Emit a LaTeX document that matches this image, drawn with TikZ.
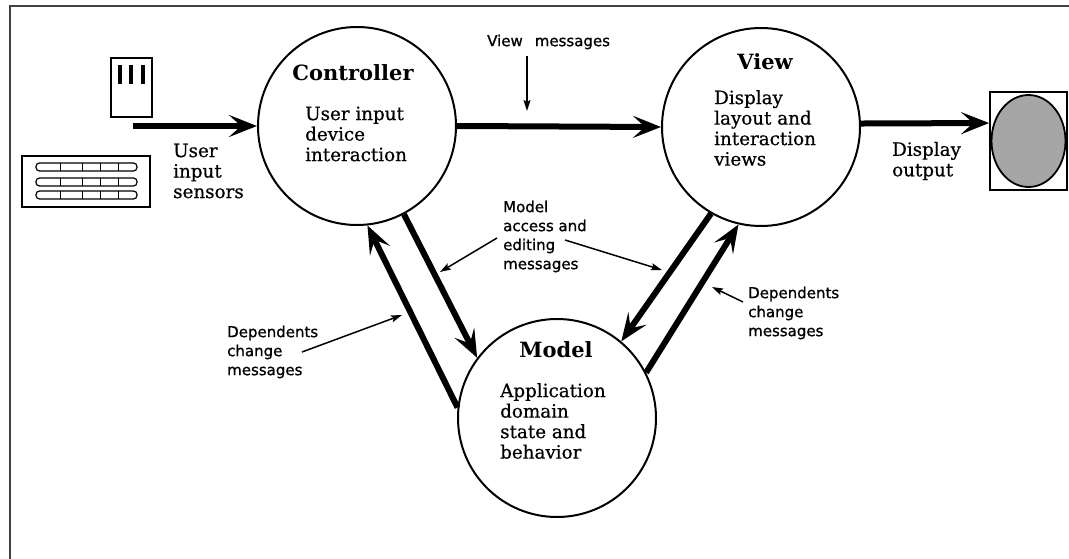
\documentclass[tikz,border=0pt]{standalone}
\usepackage{fontspec}
\setmainfont{DejaVu Serif}[UprightFeatures={FakeBold=0.6}]
\newfontfamily\labfont{DejaVu Sans}[UprightFeatures={FakeBold=1.0}]
\newfontfamily\ttlfont{DejaVu Serif Bold}
\usetikzlibrary{arrows.meta,calc}
\tikzset{
  blob/.style={circle,draw,line width=2pt,minimum size=198pt,inner sep=0pt},
  title/.style={font=\ttlfont\fontsize{21}{23}\selectfont,inner sep=0pt},
  body/.style={font=\fontsize{18.3}{20.5}\selectfont,align=left,anchor=west,inner sep=0pt},
  lab/.style={font=\labfont\fontsize{15}{19}\selectfont,align=left,anchor=west,inner sep=0pt},
  bigarrow/.style={line width=6pt,-{Stealth[length=28pt,width=22pt,inset=12pt]}},
  thinarrow/.style={line width=1.5pt,-{Stealth[length=11pt,width=7pt,inset=2pt]}},
  devline/.style={line width=1.6pt}
}
\begin{document}
\begin{tikzpicture}[x=1pt,y=-1pt]
\useasboundingbox (0,0) rectangle (1069,559);
% frame
\draw[line width=2pt,black!75] (10,559) -- (10,6) -- (1069,6);

% circles
\node[blob] (C) at (357,126) {};
\node[blob] (V) at (761,127) {};
\node[blob] (M) at (557,418) {};

% texts in circles
\node[title] (Ct) at (353,73) {Controller};
\node[body] (Cb) at (305,134) {User input\\device\\interaction};
\node[title] (Vt) at (765,62) {View};
\node[body] (Vb) at (714,128) {Display\\layout and\\interaction\\views};
\node[title] (Mt) at (556,350) {Model};
\node[body] (Mb) at (500,421) {Application\\domain\\state and\\behavior};

% input devices
\node[draw,devline,minimum width=41pt,minimum height=59pt,inner sep=0pt] (T) at (131.5,87.5) {};
\foreach \xx in {120,131,143}{\fill (\xx-2,65) rectangle (\xx+2,84);}
\node[draw,devline,minimum width=128pt,minimum height=51pt,inner sep=0pt] (K) at (86,181.5) {};
\foreach \yy in {167,182,195}{
  \draw[line width=1.2pt,rounded corners=3.5pt] (36,\yy-4) rectangle (137,\yy+4);
  \foreach \xx in {60,82,100,118}{\draw[line width=0.8pt] (\xx,\yy-4) -- (\xx,\yy+4);}
}
\node[body] (Ui) at (173,171) {User\\input\\sensors};

% display
\node[draw,line width=1.8pt,minimum width=77pt,minimum height=98pt,inner sep=0pt] (D) at (1028.5,141) {};
\draw[line width=1.8pt,fill=black!35] (D.center) ellipse [x radius=37,y radius=46];
\node[body] (Do) at (892,161) {Display\\output};

% main arrows
\coordinate (in) at (133,126);
\draw[bigarrow] (in) -- (C.west);
\draw[bigarrow] (C.east) -- (V.west);
\coordinate (dsp) at ($(D.north west)!0.32!(D.south west)$);
\draw[bigarrow] (V.2) -- (dsp);
\draw[bigarrow] (C.-62) -- (M.143);
\draw[bigarrow] (M.174) -- (C.-84);
\draw[bigarrow] (V.-120) -- (M.50);
\draw[bigarrow] (M.27) -- (V.-103);

% small labels
\node[lab] (VMl) at (487,42) {View\hspace{12pt}messages};
\coordinate (vm1) at (527,56);
\coordinate (vm2) at (527,111);
\draw[thinarrow] (vm1) -- (vm2);

\node[lab] (MAl) at (503,236.5) {Model\\access and\\editing\\messages};
\coordinate (ma1) at (497,238);
\coordinate (ma2) at (440,272);
\coordinate (ma3) at (565,240);
\coordinate (ma4) at (662,270);
\draw[thinarrow] (ma1) -- (ma2);
\draw[thinarrow] (ma3) -- (ma4);

\node[lab] (DLl) at (227,352) {Dependents\\change\\messages};
\coordinate (dl1) at (302,352);
\coordinate (dl2) at (402,315);
\draw[thinarrow] (dl1) -- (dl2);

\node[lab] (DRl) at (748,313) {Dependents\\change\\messages};
\coordinate (dr1) at (743,302);
\coordinate (dr2) at (712,287);
\draw[thinarrow] (dr1) -- (dr2);
\end{tikzpicture}
\end{document}
